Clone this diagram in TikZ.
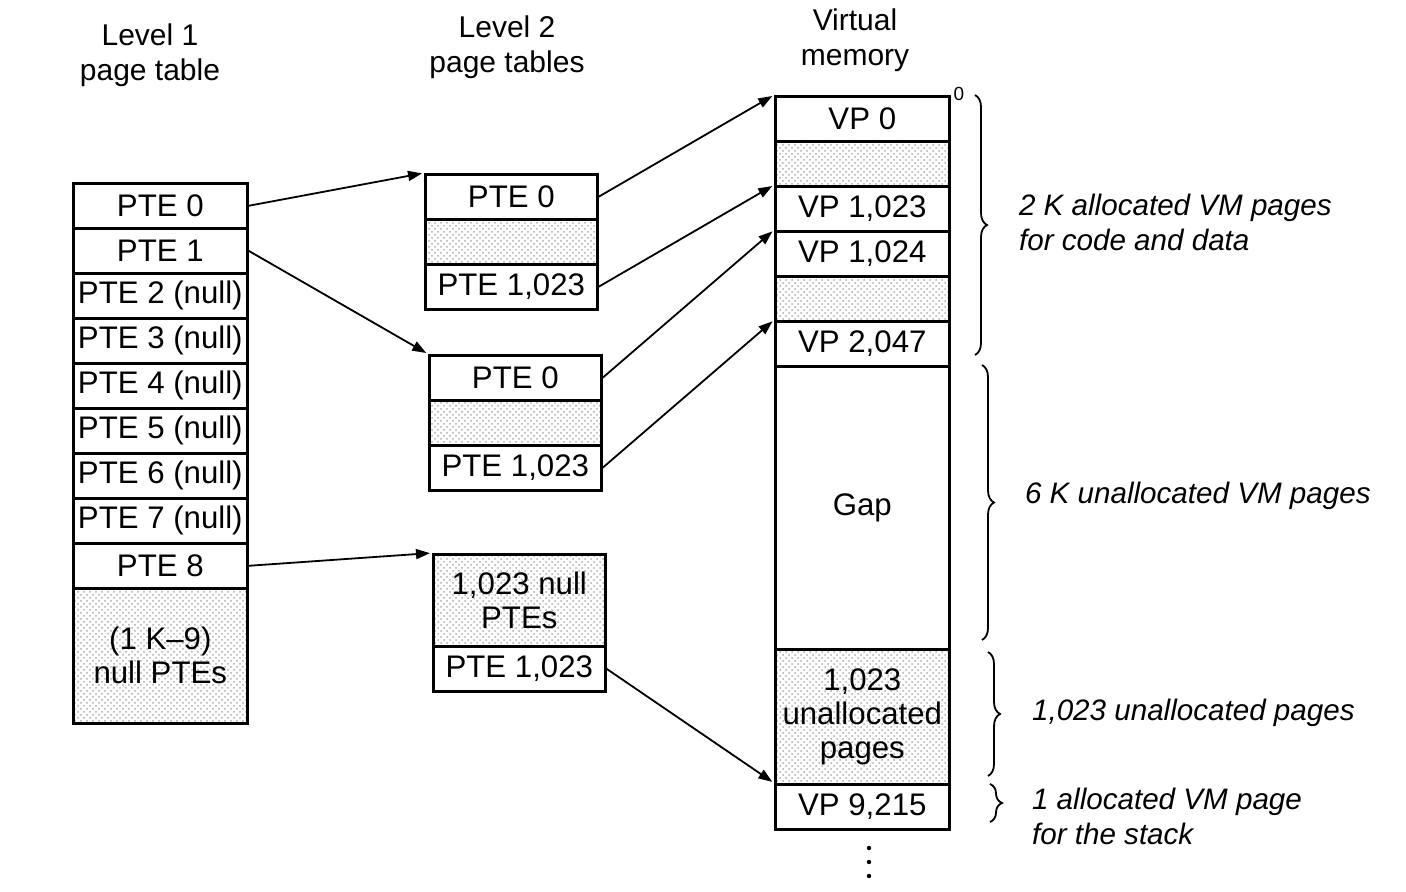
\documentclass[tikz,border=0pt]{standalone}
\usepackage{fontspec}
\setmainfont{Liberation Sans}
\usetikzlibrary{arrows.meta,patterns,decorations.pathreplacing}
\begin{document}
\begin{tikzpicture}[x=0.5pt,y=-0.5pt,
  txt/.style={font=\fontsize{15.6}{17}\selectfont},
  cell/.style={txt, draw, line width=1.3pt, anchor=north west, inner sep=0pt, align=center, minimum height=22.5pt},
  wA/.style={minimum width=87pt},
  wB/.style={minimum width=86pt},
  shaded/.style={pattern=crosshatch dots, pattern color=gray!65},
  head/.style={font=\fontsize{15}{17.5}\selectfont, align=center},
  note/.style={font=\fontsize{14.8}{17.5}\itshape, align=left, anchor=west},
  conn/.style={line width=0.9pt, -{Triangle[length=7pt,width=5pt]}, shorten >=1pt},
  brc/.style={decorate, decoration={brace, amplitude=6pt}, line width=0.9pt}
]
\useasboundingbox (0,0) rectangle (1406,892);

% headings
\node[head] (h1) at (150,55) {Level 1\\page table};
\node[head] (h2) at (507,47) {Level 2\\page tables};
\node[head] (h3) at (855,40) {Virtual\\memory};

% level 1 page table
\node[cell,wA] (l0) at (72,182) {PTE 0};
\node[cell,wA] (l1) at (72,227) {PTE 1};
\node[cell,wA] (l2) at (72,272) {PTE 2 (null)};
\node[cell,wA] (l3) at (72,317) {PTE 3 (null)};
\node[cell,wA] (l4) at (72,362) {PTE 4 (null)};
\node[cell,wA] (l5) at (72,407) {PTE 5 (null)};
\node[cell,wA] (l6) at (72,452) {PTE 6 (null)};
\node[cell,wA] (l7) at (72,497) {PTE 7 (null)};
\node[cell,wA] (l8) at (72,542) {PTE 8};
\node[cell,wA,shaded,minimum height=67.5pt] (l9) at (72,587) {(1 K–9)\\null PTEs};

% level 2 page tables
\node[cell,wB] (a0) at (424,173) {PTE 0};
\node[cell,wB,shaded] (a1) at (424,218) {};
\node[cell,wB] (a2) at (424,263) {PTE 1,023};

\node[cell,wB] (b0) at (428,354) {PTE 0};
\node[cell,wB,shaded] (b1) at (428,399) {};
\node[cell,wB] (b2) at (428,444) {PTE 1,023};

\node[cell,wB,shaded,minimum height=46pt] (c1) at (432,553) {1,023 null\\PTEs};
\node[cell,wB] (c2) at (432,645) {PTE 1,023};

% virtual memory
\node[cell,wA] (v0) at (774,95) {VP 0};
\node[cell,wA,shaded] (v1) at (774,140) {};
\node[cell,wA] (v2) at (774,185) {VP 1,023};
\node[cell,wA] (v3) at (774,230) {VP 1,024};
\node[cell,wA,shaded] (v4) at (774,275) {};
\node[cell,wA] (v5) at (774,320) {VP 2,047};
\node[cell,wA,minimum height=141.5pt] (v6) at (774,365) {Gap};
\node[cell,wA,shaded,minimum height=67.5pt] (v7) at (774,648) {1,023\\unallocated\\pages};
\node[cell,wA] (v8) at (774,783) {VP 9,215};

% dots
\fill (869,848) circle (2.2);
\fill (869,862) circle (2.2);
\fill (869,876) circle (2.2);

% arrows
\draw[conn] (l0.east) -- (a0.north west);
\draw[conn] (l1.east) -- (b0.north west);
\draw[conn] (l8.east) -- (c1.north west);
\draw[conn] (a0.east) -- (v0.north west);
\draw[conn] (a2.east) -- (v2.north west);
\draw[conn] (b0.east) -- (v3.north west);
\draw[conn] (b2.east) -- (v5.north west);
\draw[conn] (c2.east) -- (v8.north west);

% braces and notes
\node[font=\fontsize{9.5}{10}\selectfont] (z) at (959,94) {0};
\draw[brc] (975,95) -- (975,355);
\node[note] (n1) at (1012,222) {2 K allocated VM pages\\for code and data};
\draw[brc] (982,365) -- (982,640);
\node[note] (n2) at (1018,496) {6 K unallocated VM pages};
\draw[brc] (988,652) -- (988,776);
\node[note] (n3) at (1025,713) {1,023 unallocated pages};
\draw[brc] (990,784) -- (990,822);
\node[note] (n4) at (1025,816) {1 allocated VM page\\for the stack};
\end{tikzpicture}
\end{document}
